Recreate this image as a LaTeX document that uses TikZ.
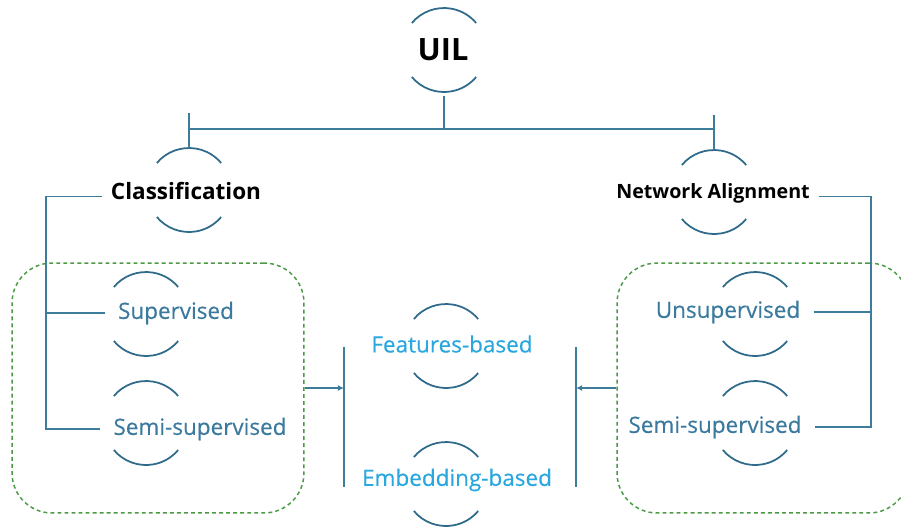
\documentclass[tikz,border=0pt]{standalone}
\usepackage{fontspec}
\setmainfont{Open Sans}
\newfontfamily\labelfont[FakeBold = 0.4]{Open Sans}
\usepackage{xcolor}
\usepackage{tikz}
\usetikzlibrary{calc}
\usetikzlibrary{arrows.meta}
\usetikzlibrary{positioning}
\definecolor{linkblue}{HTML}{3E7C9B}
\definecolor{arcblue}{HTML}{2F6A8A}
\definecolor{leafblue}{HTML}{3B7A9E}
\definecolor{skyblue}{HTML}{2AA7DF}
\definecolor{groupgreen}{HTML}{4C9A45}
\tikzset{>=latex}
\tikzstyle{ring} = [circle, minimum size = 1.68cm, inner sep = 0pt, outer sep = 0pt]
\tikzstyle{ringarc} = [draw = arcblue, line width = 1pt]
\tikzstyle{head} = [font = \fontsize{12.8}{15}\selectfont\bfseries, inner xsep = 5pt]
\tikzstyle{leaf} = [text = leafblue, font = \fontsize{12.8}{15}\selectfont\labelfont, inner xsep = 7.5pt]
\tikzstyle{method} = [text = skyblue, font = \fontsize{12.8}{15}\selectfont\labelfont]
\tikzstyle{branch} = [-, draw = linkblue, line width = 0.85pt]
\tikzstyle{feed} = [-{Latex[length = 3.5pt, width = 3.5pt]}, draw = linkblue, line width = 0.85pt]
\tikzstyle{groupbox} = [rectangle, draw = groupgreen, line width = 0.85pt, dash pattern = on 2.2pt off 1.8pt, rounded corners = 0.8cm, minimum width = 5.84cm, minimum height = 5cm]

\begin{document}
\begin{tikzpicture}[x = 0.02cm, y = -0.02cm]
\useasboundingbox (0, 0) rectangle (901, 529);
% dashed groups
\node [groupbox] (boxL) at (158, 388) {};
\node [groupbox] (boxR) at (763, 388) {};
% rings round the labels
\node [ring] (rUIL) at (444, 50) {};
\node [ring] (rCls) at (189, 190) {};
\node [ring] (rNA) at (714, 192) {};
\node [ring] (rSup) at (146, 314) {};
\node [ring] (rSemiL) at (146, 423) {};
\node [ring] (rFeat) at (446, 346) {};
\node [ring] (rEmb) at (446, 484) {};
\node [ring] (rUnsup) at (755, 314) {};
\node [ring] (rSemiR) at (755, 423) {};
\foreach \r in {rUIL, rCls, rNA, rSup, rSemiL, rFeat, rEmb, rUnsup, rSemiR} {
  \draw [ringarc] (\r.140) arc [start angle = 140, end angle = 40, radius = 0.84cm];
  \draw [ringarc] (\r.-140) arc [start angle = -140, end angle = -40, radius = 0.84cm];
}
% labels
\node [head, font = \fontsize{17.5}{20}\selectfont\bfseries] (uil) at (443, 50) {UIL};
\node [head] (cls) at (186, 191) {Classification};
\node [head, font = \fontsize{11.2}{14}\selectfont\bfseries] (na) at (713, 193) {Network Alignment};
\node [leaf] (sup) at (176, 313) {Supervised};
\node [leaf] (semiL) at (200, 429) {Semi-supervised};
\node [leaf] (unsup) at (728, 312) {Unsupervised};
\node [leaf] (semiR) at (715, 427) {Semi-supervised};
\node [method] (feat) at (452, 344) {Features-based};
\node [method] (emb) at (457, 480) {Embedding-based};
% connectors
\coordinate (hub) at (444, 129);
\coordinate (trunkL) at (46, 0);
\coordinate (trunkR) at (871, 0);
\coordinate (inL) at (344, 388);
\coordinate (inR) at (576, 388);
\draw [branch] ([yshift = -2pt]rUIL.south) -- (hub);
\draw [branch] (rCls |- hub) -- (rNA |- hub);
\draw [branch] (rCls.north) -- ++(0, -35);
\draw [branch] (rNA.north) -- ++(0, -35);
\draw [branch] ([yshift = -3pt]cls.west) -| (trunkL |- semiL.west) -- (semiL.west);
\draw [branch] (sup.west) -- (sup.west -| trunkL);
\draw [branch] ([yshift = -2pt]na.east) -| (trunkR |- semiR.east) -- (semiR.east);
\draw [branch] (unsup.east) -- (unsup.east -| trunkR);
\draw [branch] (inL) ++(0, -41) -- ++(0, 140);
\draw [branch] (inR) ++(0, -41) -- ++(0, 140);
\draw [feed] (boxL.east) -- (inL);
\draw [feed] (boxR.west) -- (inR);
\end{tikzpicture}
\end{document}
